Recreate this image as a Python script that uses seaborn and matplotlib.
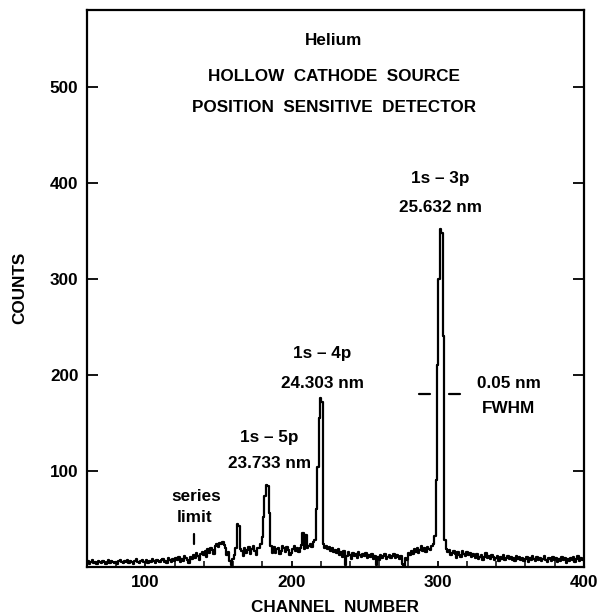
import numpy as np
import pandas as pd
from matplotlib import pyplot as plt
import seaborn as sns

# counts per channel (channels 60..400)
first_channel = 60
counts = [
    4, 6, 3, 5, 7, 4, 5, 3, 6, 5,
    4, 6, 5, 3, 5, 7, 4, 6, 5, 4,
    5, 3, 6, 7, 5, 4, 6, 5, 7, 4,
    6, 5, 3, 6, 8, 5, 4, 6, 7, 5,
    5, 7, 4, 6, 5, 8, 6, 4, 7, 6,
    5, 7, 8, 5, 6, 4, 9, 7, 5, 8,
    6, 9, 7, 10, 5, 8, 6, 11, 9, 7,
    4, 10, 8, 12, 9, 14, 11, 7, 13, 15,
    12, 16, 10, 18, 14, 20, 17, 13, 22, 24,
    21, 25, 24, 26, 23, 19, 12, 15, 6, 2,
    8, 12, 20, 44, 42, 18, 16, 11, 19, 14,
    17, 21, 13, 18, 22, 16, 12, 20, 20, 24,
    31, 52, 74, 85, 84, 56, 22, 14, 21, 14,
    18, 20, 13, 16, 22, 19, 15, 21, 17, 12,
    14, 18, 22, 16, 20, 15, 19, 23, 35, 18,
    33, 20, 22, 24, 21, 26, 28, 60, 104, 155,
    176, 172, 24, 20, 22, 18, 21, 16, 19, 15,
    17, 14, 18, 12, 15, 10, 16, 2, 11, 15,
    12, 8, 14, 11, 13, 9, 15, 12, 10, 13,
    11, 14, 9, 12, 10, 13, 8, 11, 2, 10,
    7, 12, 9, 11, 13, 8, 10, 12, 9, 11,
    13, 9, 12, 10, 8, 11, 3, 1, 9, 7,
    14, 12, 16, 13, 18, 15, 20, 14, 17, 22,
    16, 19, 15, 21, 18, 17, 22, 24, 32, 90,
    210, 300, 352, 348, 240, 28, 18, 15, 17, 12,
    14, 16, 13, 9, 15, 12, 10, 16, 13, 11,
    15, 12, 14, 10, 13, 11, 9, 13, 8, 10,
    12, 7, 10, 14, 9, 11, 8, 12, 10, 7,
    9, 11, 6, 10, 8, 12, 7, 9, 11, 8,
    10, 7, 9, 6, 11, 8, 10, 7, 9, 6,
    8, 10, 5, 9, 7, 11, 8, 6, 10, 7,
    9, 6, 8, 11, 7, 5, 9, 8, 6, 10,
    7, 9, 5, 8, 6, 10, 7, 9, 4, 8,
    6, 9, 7, 10, 5, 8, 11, 6, 9, 7,
    8,
]

x_ticks = [100, 200, 300, 400]
x_minor = [60, 80, 120, 140, 160, 180, 220, 240, 260, 280, 320, 340, 360, 380]
y_ticks = [100, 200, 300, 400, 500]

title_lines = ['Helium', 'HOLLOW  CATHODE  SOURCE', 'POSITION  SENSITIVE  DETECTOR']
line_names = ['1s – 3p', '1s – 4p', '1s – 5p']
line_waves = ['25.632 nm', '24.303 nm', '23.733 nm']

df = pd.DataFrame({'channel': np.arange(first_channel, first_channel + len(counts)),
                   'counts': counts})

sns.set_style('ticks')
plt.rcParams['font.family'] = ['Liberation Sans', 'DejaVu Sans']

fig = plt.figure(figsize=(6.07, 6.16), dpi=100)
ax = fig.add_axes([0.143, 0.080, 0.819, 0.904])

sns.lineplot(data=df, x='channel', y='counts', ax=ax, color='black',
             linewidth=1.6, drawstyle='steps-mid')

ax.set_xlim(60, 400)
ax.set_ylim(0, 580)
ax.set_xticks(x_ticks)
ax.set_xticks(x_minor, minor=True)
ax.set_yticks(y_ticks)

for s in ax.spines.values():
    s.set_linewidth(1.6)
    s.set_color('black')

tfont = dict(fontsize=12.3, fontweight='bold', color='black')
ax.tick_params(axis='both', which='major', direction='in', labelsize=12.3,
               width=1.3, pad=6, colors='black')
ax.tick_params(axis='x', which='major', length=4)
ax.tick_params(axis='x', which='minor', direction='in', length=4, width=1.3)
ax.tick_params(axis='y', which='major', length=8, right=True)
for lab in ax.get_xticklabels() + ax.get_yticklabels():
    lab.set_fontweight('bold')

ax.set_xlabel('CHANNEL  NUMBER', labelpad=7, **tfont)
ax.set_ylabel('COUNTS', labelpad=16, **tfont)

# headings
for txt, y in zip(title_lines, [548, 511, 478]):
    ax.text(229, y, txt, ha='center', va='center', **tfont)

# line identifications
for name, wave, (x, y1, y2) in zip(line_names, line_waves,
                                   [(302, 404, 374), (221, 222, 191), (185, 135, 108)]):
    ax.text(x, y1, name, ha='center', va='center', **tfont)
    ax.text(x, y2, wave, ha='center', va='center', **tfont)

ax.text(135, 73, 'series', ha='center', va='center', **tfont)
ax.text(134, 51, 'limit', ha='center', va='center', **tfont)
ax.plot([133, 133], [24, 34], color='black', linewidth=1.6)

ax.text(349, 191, '0.05 nm', ha='center', va='center', **tfont)
ax.text(348.5, 165, 'FWHM', ha='center', va='center', **tfont)
ax.plot([287, 295], [180, 180], color='black', linewidth=1.6)
ax.plot([308, 315], [180, 180], color='black', linewidth=1.6)

plt.savefig('out.png', dpi=100)
